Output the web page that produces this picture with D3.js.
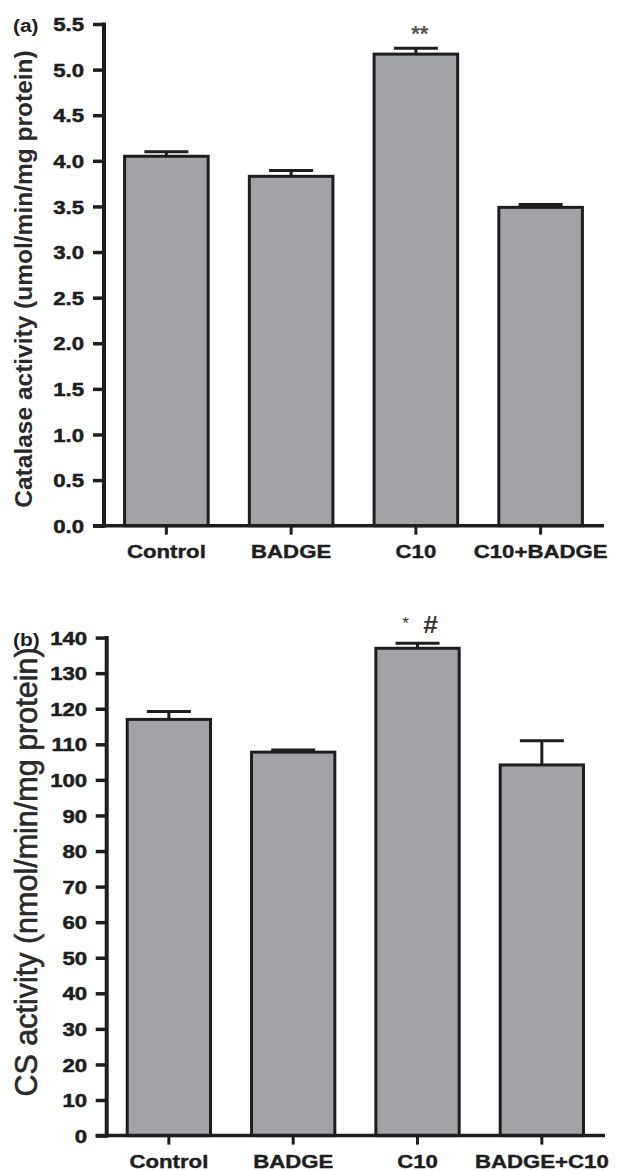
<!DOCTYPE html>
<html><head><meta charset="utf-8">
<script src="https://cdn.jsdelivr.net/npm/d3@7"></script>
<style>body{margin:0;background:#fff}svg{display:block}</style>
</head><body>
<svg id="c" width="620" height="1171"></svg>
<script>
// ---- data ----
const categoriesA = ["Control", "BADGE", "C10", "C10+BADGE"];
const valuesA = [4.05, 3.83, 5.17, 3.49];
const errorsA = [0.05, 0.065, 0.065, 0.03];
const ticksA = [0.0, 0.5, 1.0, 1.5, 2.0, 2.5, 3.0, 3.5, 4.0, 4.5, 5.0, 5.5];
const annotA = ["", "", "**", ""];
const titleA = "Catalase activity (umol/min/mg protein)";

const categoriesB = ["Control", "BADGE", "C10", "BADGE+C10"];
const valuesB = [117.0, 107.8, 137.0, 104.2];
const errorsB = [2.2, 0.6, 1.4, 6.8];
const ticksB = [0, 10, 20, 30, 40, 50, 60, 70, 80, 90, 100, 110, 120, 130, 140];
const titleB = "CS activity (nmol/min/mg protein)";

const svg = d3.select("#c");
const FONT = "'Liberation Sans', Arial, sans-serif";
const SX = 1.2;
const BAR_FILL = "#a2a3a7", INK = "#1e1e1e";

function panel(o) {
  const g = svg.append("g");
  const x = d3.scaleBand().domain(o.cats).range([o.x0, o.x1]).paddingInner(0.33).paddingOuter(0.165);
  const y = d3.scaleLinear().domain([0, o.ymax]).range([o.yb, o.yt]);

  // bars
  g.selectAll("rect.bar").data(o.vals).join("rect")
    .attr("x", (d, i) => x(o.cats[i]))
    .attr("y", d => y(d))
    .attr("width", x.bandwidth())
    .attr("height", d => y(0) - y(d))
    .attr("fill", BAR_FILL).attr("stroke", INK).attr("stroke-width", 3);

  // error bars
  const eg = g.selectAll("g.err").data(o.vals).join("g");
  eg.append("line")
    .attr("x1", (d, i) => x(o.cats[i]) + x.bandwidth() / 2)
    .attr("x2", (d, i) => x(o.cats[i]) + x.bandwidth() / 2)
    .attr("y1", d => y(d)).attr("y2", (d, i) => y(d + o.errs[i]))
    .attr("stroke", INK).attr("stroke-width", 3);
  eg.append("line")
    .attr("x1", (d, i) => x(o.cats[i]) + x.bandwidth() / 2 - 22)
    .attr("x2", (d, i) => x(o.cats[i]) + x.bandwidth() / 2 + 22)
    .attr("y1", (d, i) => y(d + o.errs[i])).attr("y2", (d, i) => y(d + o.errs[i]))
    .attr("stroke", INK).attr("stroke-width", 3);

  // y axis
  const ya = g.append("g").attr("transform", `translate(${o.x0},0)`)
    .call(d3.axisLeft(y).tickValues(o.ticks).tickFormat(o.fmt).tickSize(11).tickSizeOuter(0));
  ya.select(".domain").attr("stroke", INK).attr("stroke-width", 4)
    .attr("d", `M0,${o.yb + 2}V${o.yt - 1.5}`);
  ya.selectAll(".tick line").attr("stroke", INK).attr("stroke-width", 3.5);
  ya.selectAll(".tick text")
    .attr("x", -o.lgap / SX).attr("dy", "0.36em")
    .attr("transform", `scale(${SX},1)`)
    .attr("font-family", FONT).attr("font-weight", "bold").attr("font-size", 18.5).attr("fill", INK)
    .attr("stroke", INK).attr("stroke-width", 0.5);

  // x axis
  const xa = g.append("g").attr("transform", `translate(0,${o.yb})`)
    .call(d3.axisBottom(x).tickSize(9).tickSizeOuter(0).tickFormat(""));
  xa.select(".domain").attr("stroke", INK).attr("stroke-width", 3.5)
    .attr("d", `M${o.x0 - 11},0H${o.x1 + 1}`);
  xa.selectAll(".tick line").attr("stroke", INK).attr("stroke-width", 3);

  // x labels
  g.selectAll("text.xl").data(o.cats).join("text")
    .attr("transform", d => `translate(${x(d) + x.bandwidth() / 2},${o.xlabY}) scale(${SX},1)`)
    .attr("text-anchor", "middle")
    .attr("font-family", FONT).attr("font-weight", "bold").attr("font-size", 18.5).attr("fill", INK)
    .attr("stroke", INK).attr("stroke-width", 0.4)
    .text(d => d);

  // y title
  g.append("text")
    .attr("transform", `translate(${o.titleX},${o.titleY}) rotate(-90)`)
    .attr("text-anchor", "middle")
    .attr("font-family", FONT).attr("font-weight", o.titleW).attr("font-size", o.titleSize).attr("fill", "#2a2a2a")
    .attr("stroke", "#2a2a2a").attr("stroke-width", o.titleStroke)
    .text(o.title);

  // panel letter
  g.append("text")
    .attr("transform", `translate(${o.letterX},${o.letterY}) scale(1.1,1)`)
    .attr("font-family", FONT).attr("font-weight", "bold").attr("font-size", 19).attr("fill", INK)
    .text(o.letter);
  return { x, y, g };
}

const A = panel({
  cats: categoriesA, vals: valuesA, errs: errorsA, ticks: ticksA, ymax: 5.5,
  fmt: d3.format(".1f"), x0: 104, x1: 603, yb: 525.7, yt: 24, lgap: 20,
  xlabY: 558, title: titleA, titleX: 32, titleY: 279, titleSize: 24.5, titleW: "bold", titleStroke: 0,
  letter: "(a)", letterX: 13, letterY: 32
});
// annotation (a)
A.g.selectAll("text.an").data(annotA).join("text")
  .attr("x", (d, i) => A.x(categoriesA[i]) + A.x.bandwidth() / 2 + 4)
  .attr("y", (d, i) => A.y(valuesA[i] + errorsA[i]) - 7)
  .attr("text-anchor", "middle")
  .attr("font-family", FONT).attr("font-weight", "bold").attr("font-size", 22).attr("fill", "#555")
  .text(d => d);

const B = panel({
  cats: categoriesB, vals: valuesB, errs: errorsB, ticks: ticksB, ymax: 140,
  fmt: d3.format("d"), x0: 106.7, x1: 604, yb: 1135.6, yt: 637.6, lgap: 19.5,
  xlabY: 1168, title: titleB, titleX: 37, titleY: 872, titleSize: 30.5, titleW: "normal", titleStroke: 0.6,
  letter: "(b)", letterX: 13, letterY: 646
});
// annotation (b): "* #" above C10
const cB = B.x("C10") + B.x.bandwidth() / 2;
const topB = B.y(valuesB[2] + errorsB[2]);
B.g.append("text").attr("x", cB - 12).attr("y", topB - 14).attr("text-anchor", "middle")
  .attr("font-family", FONT).attr("font-size", 17).attr("fill", "#333").text("*");
B.g.append("text").attr("transform", `translate(${cB + 13},${topB - 10}) scale(1.15,1)`).attr("text-anchor", "middle")
  .attr("font-family", FONT).attr("font-weight", "bold").attr("font-size", 23).attr("fill", "#333").text("#");
</script>
</body></html>
